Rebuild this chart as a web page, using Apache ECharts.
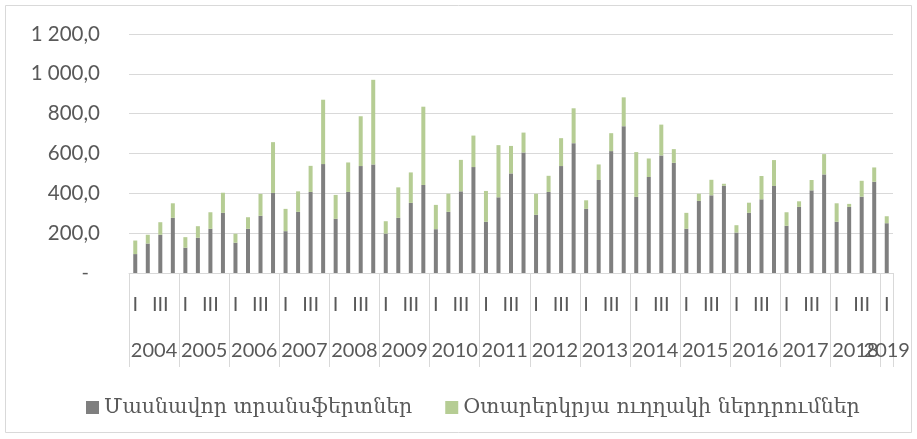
<!DOCTYPE html>
<html>
<head>
<meta charset="utf-8">
<script src="https://cdn.jsdelivr.net/npm/echarts@6/dist/echarts.min.js"></script>
<style>
  html, body { margin: 0; padding: 0; background: #fff; }
  #chart { width: 917px; height: 439px; }
</style>
</head>
<body>
<div id="chart"></div>
<script>
// Quarterly inflows, 2004 Q1 – 2019 Q1
const years = ['2004', '2005', '2006', '2007', '2008', '2009', '2010', '2011',
               '2012', '2013', '2014', '2015', '2016', '2017', '2018', '2019'];
const quarters = ['I', 'II', 'III', 'IV'];

const seriesNames = ['Մասնավոր տրանսֆերտներ', 'Օտարերկրյա ուղղակի ներդրումներ'];

// Private transfers
const privateTransfers = [
  95, 148, 192, 277,
  127, 177, 222, 302,
  152, 222, 287, 402,
  210, 307, 407, 547,
  272, 407, 537, 545,
  198, 277, 352, 442,
  220, 307, 410, 532,
  257, 380, 500, 605,
  292, 407, 537, 652,
  322, 467, 612, 737,
  382, 482, 590, 553,
  222, 362, 390, 438,
  203, 302, 370, 437,
  237, 332, 415, 495,
  257, 332, 383, 458,
  250
];

// Foreign direct investment
const fdi = [
  68, 44, 63, 73,
  53, 58, 83, 101,
  45, 58, 110, 255,
  112, 103, 131, 323,
  120, 148, 250, 425,
  62, 153, 153, 393,
  122, 91, 158, 158,
  155, 262, 138, 100,
  106, 81, 140, 175,
  43, 78, 90, 145,
  225, 93, 155, 69,
  80, 36, 78, 10,
  37, 51, 117, 130,
  68, 28, 52, 102,
  93, 15, 80, 72,
  35
];

const yTicks = { min: 0, max: 1200, step: 200 };

// One category per quarter, labelled with its Roman numeral
const categories = privateTransfers.map((_, i) => quarters[i % 4]);

// Year groups: boundaries and centres measured in category units
const yearBounds = [];
const yearCentres = [];
{
  let start = 0;
  years.forEach(() => {
    const count = Math.min(4, categories.length - start);
    yearBounds.push(start);
    yearCentres.push(start + count / 2);
    start += count;
  });
  yearBounds.push(start);
}
// Full years and the trailing partial year get separate label axes so neither hides the other
const fullCentres = yearCentres.filter((c, i) => yearBounds[i + 1] - yearBounds[i] === 4);
const partialCentres = yearCentres.filter((c, i) => yearBounds[i + 1] - yearBounds[i] !== 4);

const textColor = '#595959';
const lineColor = '#d9d9d9';
const baseFont = 'Lato, "Open Sans", sans-serif';
const armFont = '"DejaVu Serif", "Noto Sans", serif';

function formatValue(v) {
  const [intPart, dec] = v.toFixed(1).split('.');
  return intPart.replace(/\B(?=(\d{3})+(?!\d))/g, ' ') + ',' + dec;
}

function yearLabel(v) {
  const idx = yearCentres.findIndex(c => Math.abs(c - v) < 1e-6);
  return idx >= 0 ? years[idx] : '';
}

function yearAxis(centres, withTicks) {
  return {
    type: 'value',
    position: 'bottom',
    min: 0,
    max: categories.length,
    axisLine: { show: false },
    splitLine: { show: false },
    axisTick: {
      show: withTicks,
      customValues: yearBounds,
      length: 94,
      lineStyle: { color: lineColor, width: 1 }
    },
    axisLabel: {
      customValues: centres,
      hideOverlap: false,
      showMinLabel: true,
      showMaxLabel: true,
      margin: 68,
      color: textColor,
      fontSize: 20,
      fontFamily: baseFont,
      formatter: yearLabel
    }
  };
}

const chart = echarts.init(document.getElementById('chart'), null, { renderer: 'canvas' });

chart.setOption({
  animation: false,
  backgroundColor: '#ffffff',
  graphic: [{
    type: 'rect',
    shape: { x: 5.5, y: 5.5, width: 906, height: 427 },
    style: { fill: 'none', stroke: lineColor, lineWidth: 1 },
    silent: true
  }],
  grid: { left: 129, right: 24, top: 34, bottom: 166, containLabel: false },
  legend: {
    data: seriesNames,
    left: 81,
    top: 392,
    icon: 'rect',
    itemWidth: 13,
    itemHeight: 13,
    itemGap: 33,
    textStyle: { color: textColor, fontSize: 20.5, fontFamily: armFont }
  },
  xAxis: [
    {
      type: 'category',
      data: categories,
      boundaryGap: true,
      axisLine: { show: true, lineStyle: { color: lineColor, width: 1 } },
      axisTick: { show: false },
      axisLabel: {
        interval: 1,
        margin: 22,
        color: textColor,
        fontSize: 20,
        fontFamily: baseFont
      },
      splitLine: { show: false }
    },
    yearAxis(fullCentres, true),
    yearAxis(partialCentres, false)
  ],
  yAxis: {
    type: 'value',
    min: yTicks.min,
    max: yTicks.max,
    interval: yTicks.step,
    axisLine: { show: false },
    axisTick: { show: false },
    splitLine: { lineStyle: { color: lineColor, width: 1 } },
    axisLabel: {
      margin: 29,
      color: textColor,
      fontSize: 20.5,
      fontFamily: baseFont,
      formatter: (v) => v === 0 ? '{z|-}' : formatValue(v),
      rich: {
        z: { color: textColor, fontSize: 20, fontFamily: baseFont, padding: [0, 11, 0, 0] }
      }
    }
  },
  series: [
    {
      name: seriesNames[0],
      type: 'bar',
      stack: 'total',
      barWidth: 4,
      itemStyle: { color: '#7f7f7f' },
      data: privateTransfers
    },
    {
      name: seriesNames[1],
      type: 'bar',
      stack: 'total',
      barWidth: 4,
      itemStyle: { color: '#b6cd94' },
      data: fdi
    }
  ]
});
</script>
</body>
</html>
